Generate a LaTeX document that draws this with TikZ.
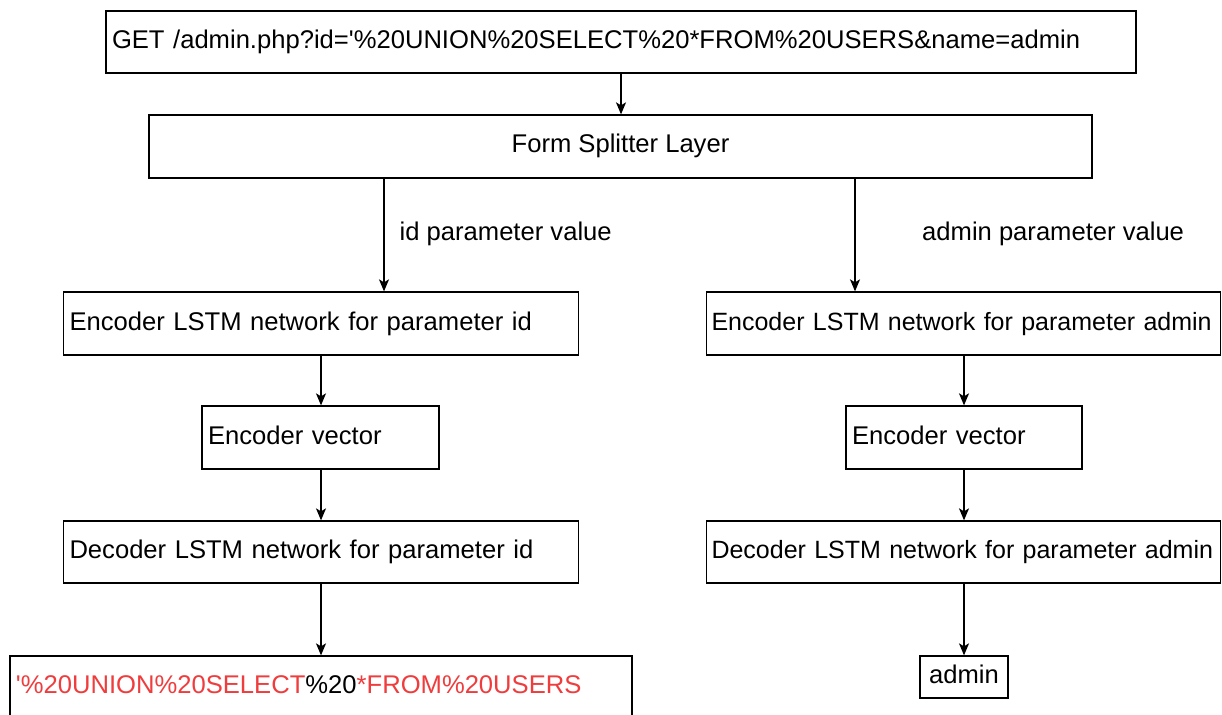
\documentclass[tikz,border=0pt]{standalone}
\usepackage{fontspec}
\newfontfamily\diagfont{Liberation Sans}
\usetikzlibrary{arrows.meta}
\definecolor{sqlred}{HTML}{F03C3C}

\begin{document}
\begin{tikzpicture}[x=1pt,y=-1pt,
  every node/.style={font=\diagfont\fontsize{25.6}{30}\selectfont},
  box/.style={draw, line width=1.3pt, fill=white, inner ysep=0pt, inner xsep=6pt,
              text height=18pt, text depth=5pt},
  lbox/.style={box, align=left},
  widebox/.style={lbox, inner xsep=5pt, text width=504pt,
                  font=\diagfont\fontsize{25}{30}\selectfont},
  arr/.style={line width=1.3pt, -{Stealth[length=12pt,width=10pt,inset=3pt]}},
  lab/.style={inner sep=0pt, anchor=base west}]

\clip (0,0) rectangle (1222,714);
\fill[white] (0,0) rectangle (1222,714);

% request and splitter
\node[lbox, text width=1018pt, minimum height=62pt] (req) at (621,42)
  {\mbox{GET /admin.php?id='\%20UNION\%20SELECT\%20*FROM\%20USERS\&name=admin}};
\node[box, minimum width=943pt, minimum height=63pt] (split) at (620.5,146.5)
  {Form Splitter Layer};

% left branch: parameter id
\node[lbox, text width=503pt, minimum height=63pt] (encL) at (321,323.5)
  {\mbox{Encoder LSTM network for parameter id}};
\node[lbox, text width=225pt, minimum height=63pt] (vecL) at (320.5,437.5)
  {\mbox{Encoder vector}};
\node[lbox, text width=503pt, minimum height=62pt] (decL) at (321,552)
  {\mbox{Decoder LSTM network for parameter id}};
\node[lbox, text width=610pt, minimum height=62pt] (outL) at (321,687)
  {\mbox{\textcolor{sqlred}{'\%20UNION\%20SELECT}\%20\textcolor{sqlred}{*FROM\%20USERS}}};

% right branch: parameter admin (long texts nearly fill the box)
\node[widebox, minimum height=63pt] (encR) at (963.5,323.5)
  {\mbox{Encoder LSTM network for parameter admin}};
\node[lbox, text width=224pt, minimum height=63pt] (vecR) at (964,437.5)
  {\mbox{Encoder vector}};
\node[widebox, minimum height=62pt] (decR) at (963.5,552)
  {\mbox{Decoder LSTM network for parameter admin}};
\node[box, minimum width=88pt, minimum height=42pt, inner xsep=0pt] (outR) at (964,677)
  {admin};

% connectors
\coordinate (lx) at (384,0);
\coordinate (rx) at (855,0);
\draw[arr] (req.south) -- (split.north -| req.south);
\draw[arr] (split.south -| lx) -- (encL.north -| lx);
\draw[arr] (split.south -| rx) -- (encR.north -| rx);
\draw[arr] (encL.south) -- (vecL.north -| encL.south);
\draw[arr] (vecL.south -| encL.south) -- (decL.north);
\draw[arr] (decL.south) -- (outL.north -| decL.south);
\draw[arr] (encR.south -| outR.north) -- (vecR.north -| outR.north);
\draw[arr] (vecR.south -| outR.north) -- (decR.north -| outR.north);
\draw[arr] (decR.south -| outR.north) -- (outR.north);

% edge labels
\node[lab] (labL) at (399.5,240) {id parameter value};
\node[lab] (labR) at (922,240) {admin parameter value};
\end{tikzpicture}
\end{document}
